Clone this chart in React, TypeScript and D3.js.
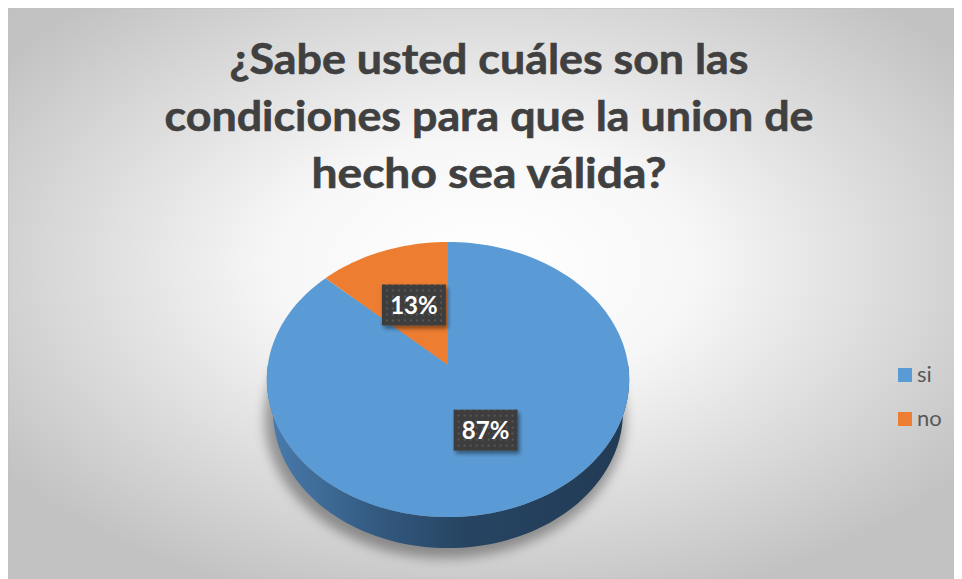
import React from "react";
import * as d3 from "d3";

const categories = ["si", "no"];
const values = [87, 13];
const labels = ["87%", "13%"];
const colors = ["#5b9bd5", "#ed7d31"];
const sideColors = ["#2f5477", "#a4541f"];
const titleLines = ["¿Sabe usted cuáles son las", "condiciones para que la union de", "hecho sea válida?"];

// 3D projection parameters
const CX = 448;
const CY = 365;
const D = 6.2;
const F = 1117;
const SA = 0.755;
const CA = 0.656;
const H = 0.289;

function proj(x: number, z: number, y: number): [number, number] {
  const depth = D - y * SA - z * CA;
  return [CX + (F * x) / depth, CY - (F * (y * CA - z * SA)) / depth];
}
function ptAt(theta: number, r: number, y: number): [number, number] {
  return proj(Math.sin(theta) * r, -Math.cos(theta) * r, y);
}

export default function App() {
  const pie = d3.pie<number>().sort(null).startAngle(0).endAngle(2 * Math.PI);
  const arcs = pie(values);
  const arcGen = d3.arc<any>().innerRadius(0).outerRadius(1);
  const line = d3.line<[number, number]>().curve(d3.curveLinear);
  const N = 180;

  const slicePath = (a0: number, a1: number, y: number) => {
    const pts: [number, number][] = [proj(0, 0, y)];
    const steps = Math.max(4, Math.ceil(((a1 - a0) / (2 * Math.PI)) * N));
    for (let i = 0; i <= steps; i++) pts.push(ptAt(a0 + ((a1 - a0) * i) / steps, 1, y));
    return line(pts) + "Z";
  };
  const sidePath = (a0: number, a1: number) => {
    const s = Math.max(a0, Math.PI / 2);
    const e = Math.min(a1, (3 * Math.PI) / 2);
    if (e <= s) return null;
    const steps = Math.max(4, Math.ceil(((e - s) / (2 * Math.PI)) * N));
    const top: [number, number][] = [];
    const bot: [number, number][] = [];
    for (let i = 0; i <= steps; i++) {
      const t = s + ((e - s) * i) / steps;
      top.push(ptAt(t, 1, 0));
      bot.push(ptAt(t, 1, -H));
    }
    return line([...top, ...bot.reverse()]) + "Z";
  };
  const shadowPts: [number, number][] = [];
  for (let i = 0; i <= N; i++) {
    const t = (i / N) * 2 * Math.PI;
    const p = ptAt(t, 1.03, -H);
    const q = ptAt(t, 1.01, 0);
    shadowPts.push([p[0] - 3, Math.max(p[1], q[1]) + 5]);
  }

  return (
    <svg width={954} height={571} style={{ display: "block" }} fontFamily="Lato, 'Open Sans', sans-serif">
      <defs>
        <radialGradient id="bg" cx="50%" cy="45%" r="62%">
          <stop offset="0%" stopColor="#ffffff" />
          <stop offset="35%" stopColor="#f7f7f7" />
          <stop offset="100%" stopColor="#c2c2c2" />
        </radialGradient>
        <linearGradient id="side" x1="0" x2="1" y1="0" y2="0">
          <stop offset="0%" stopColor="#4a7cae" />
          <stop offset="30%" stopColor="#335a80" />
          <stop offset="55%" stopColor="#264462" />
          <stop offset="100%" stopColor="#223b55" />
        </linearGradient>
        <filter id="blur" x="-20%" y="-20%" width="140%" height="140%">
          <feGaussianBlur stdDeviation="6" />
        </filter>
        <filter id="lblShadow" x="-30%" y="-30%" width="160%" height="160%">
          <feDropShadow dx="2" dy="3" stdDeviation="2" floodColor="#000" floodOpacity="0.45" />
        </filter>
        <pattern id="dots" width="6" height="6" patternUnits="userSpaceOnUse">
          <rect width="6" height="6" fill="#3d3d3d" />
          <rect x="2" y="2" width="2" height="2" fill="#575757" />
        </pattern>
      </defs>
      <g transform="translate(-8,-8)">
        <rect x={8} y={8} width={954} height={571} fill="url(#bg)" stroke="#c0c0c0" strokeWidth={1} />
        {titleLines.map((t, i) => (
          <text
            key={i}
            x={489}
            y={74 + i * 57}
            textAnchor="middle"
            fontSize={41.5}
            fontWeight={700}
            fill="#404040"
            stroke="#404040"
            strokeWidth={0.6}
            textLength={[519, 649, 355][i]}
            lengthAdjust="spacingAndGlyphs"
          >
            {t}
          </text>
        ))}
        <path d={line(shadowPts) + "Z"} fill="rgba(0,0,0,0.35)" filter="url(#blur)" />
        {arcs.map((a, i) => {
          const d = sidePath(a.startAngle, a.endAngle);
          return d ? <path key={"s" + i} d={d} fill={i === 0 ? "url(#side)" : sideColors[i]} /> : null;
        })}
        {arcs.map((a, i) => (
          <path key={"t" + i} d={slicePath(a.startAngle, a.endAngle, 0)} fill={colors[i]} />
        ))}
        {arcs.map((a, i) => {
          const c = arcGen.centroid(a);
          const [lx, ly] = proj(c[0], c[1], 0);
          return (
            <g key={"l" + i} transform={`translate(${lx},${ly})`}>
              <rect x={-32} y={-21} width={64} height={41} fill="url(#dots)" filter="url(#lblShadow)" />
              <text x={0} y={8.5} textAnchor="middle" fontSize={24} fontWeight={700} fill="#ffffff">
                {labels[i]}
              </text>
            </g>
          );
        })}
        {categories.map((c, i) => (
          <g key={"lg" + i} transform={`translate(898,${368 + i * 44})`}>
            <rect x={0} y={0} width={14} height={14} fill={colors[i]} />
            <text x={19} y={13.5} fontSize={22} fill="#595959">
              {c}
            </text>
          </g>
        ))}
      </g>
    </svg>
  );
}
